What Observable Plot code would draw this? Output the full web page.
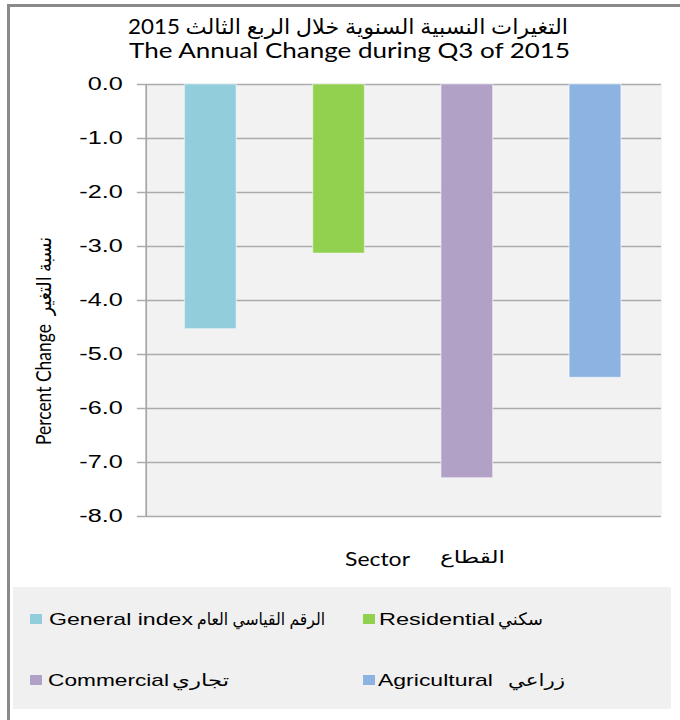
<!DOCTYPE html>
<html>
<head>
<meta charset="utf-8">
<script src="https://cdn.jsdelivr.net/npm/d3@7"></script>
<script src="https://cdn.jsdelivr.net/npm/@observablehq/plot@0.6"></script>
<style>
  html, body { margin: 0; padding: 0; background: #fff; }
  #root { position: relative; width: 680px; height: 720px; overflow: hidden; background: #fff; }
</style>
</head>
<body>
<div id="root"></div>
<script>
// ---- data ----
const sectors = ["General index", "Residential", "Commercial", "Agricultural"];
const sectorsAr = ["الرقم القياسي العام", "سكني", "تجاري", "زراعي"];
const values = [-4.53, -3.13, -7.29, -5.43];
const colors = ["#92cddc", "#92d050", "#b2a1c7", "#8db3e2"];
const yTicks = [0, -1, -2, -3, -4, -5, -6, -7, -8];
const titleAr = "التغيرات النسبية السنوية خلال الربع الثالث 2015";
const titleEn = "The Annual Change during Q3 of 2015";
const yLabel = "Percent Change  نسبة التغير";
const xLabelEn = "Sector";
const xLabelAr = "القطاع";

const data = sectors.map((s, i) => ({sector: s, value: values[i]}));

const root = document.getElementById("root");

// outer border (top + left)
function box(styles) {
  const d = document.createElement("div");
  Object.assign(d.style, {position: "absolute"}, styles);
  root.appendChild(d);
  return d;
}
box({left: "7px", top: "4px", right: "0px", height: "2.5px", background: "#8a8a8a"});
box({left: "7px", top: "4px", width: "2.5px", bottom: "0px", background: "#8a8a8a"});

// chart stage (the reference is horizontally stretched)
const S = 680 / 472;
const stage = box({left: "0px", top: "70px", width: "472px", height: "470px",
  transform: `scaleX(${S})`, transformOrigin: "0 0"});

const chart = Plot.plot({
  width: 472,
  height: 470,
  marginTop: 14,
  marginBottom: 24,
  marginLeft: 145.5 / S,
  marginRight: 472 - 661 / S,
  style: {fontFamily: "'Liberation Sans', Arial, sans-serif", fontSize: "17.5px", color: "#000", background: "transparent"},
  x: {domain: sectors, paddingInner: 0.594, paddingOuter: 0.297, axis: null},
  y: {domain: [-8, 0]},
  color: {domain: sectors, range: colors},
  marks: [
    Plot.frame({fill: "#f2f2f2", stroke: "none"}),
    Plot.gridY(yTicks, {stroke: "#ababab", strokeOpacity: 1, strokeWidth: 1.5}),
    Plot.axisY(yTicks, {tickSize: 6, tickPadding: 10.3, stroke: "#ababab", strokeOpacity: 1, strokeWidth: 1.5,
      fill: "#000", label: null, tickFormat: d => d.toFixed(1)}),
    Plot.frame({anchor: "left", stroke: "#a6a6a6", strokeWidth: 1.2}),
    Plot.barY(data, {x: "sector", y: "value", fill: "sector", stroke: "#fff", strokeOpacity: 0.45, strokeWidth: 1})
  ]
});
stage.appendChild(chart);

// text helper: fit text into [left,right], vertical centre cy
function placeText(parent, str, o) {
  const el = document.createElement("span");
  el.textContent = str;
  if (o.dir) el.dir = o.dir;
  Object.assign(el.style, {
    position: "absolute", whiteSpace: "pre", fontFamily: o.font, fontSize: o.size + "px",
    lineHeight: "1", fontWeight: o.weight || "normal", color: o.color || "#000",
    left: o.left + "px", top: (o.cy - o.size / 2) + "px", transformOrigin: "0 50%"
  });
  parent.appendChild(el);
  const w = el.getBoundingClientRect().width;
  const sx = (o.right - o.left) / w;
  el.style.transform = `scale(${sx}, ${o.sy || 1})`;
  return el;
}

const LATO = "Lato, 'DejaVu Sans', sans-serif";
const ARIAL = "'Liberation Sans', Arial, 'DejaVu Sans', sans-serif";

// titles
placeText(root, titleAr, {left: 128, right: 568, cy: 25, font: LATO, size: 21, dir: "rtl"});
placeText(root, titleEn, {left: 129, right: 570, cy: 49.5, font: LATO, size: 21});

// x label
placeText(root, xLabelEn, {left: 345, right: 410, cy: 559.5, font: LATO, size: 18.5});
placeText(root, xLabelAr, {left: 440, right: 505, cy: 557, font: LATO, size: 17.5, dir: "rtl"});

// y label (rotated)
(function () {
  const el = document.createElement("span");
  el.textContent = yLabel;
  Object.assign(el.style, {position: "absolute", whiteSpace: "pre", fontFamily: LATO, fontSize: "18px",
    lineHeight: "1", color: "#000", left: "0px", top: "0px"});
  root.appendChild(el);
  const r = el.getBoundingClientRect();
  const target = 445 - 237, cx = 43, cy = 341;
  el.style.left = (cx - r.width / 2) + "px";
  el.style.top = (cy - r.height / 2) + "px";
  el.style.transformOrigin = "50% 50%";
  el.style.transform = `rotate(-90deg) scale(${target / r.width}, 1.12)`;
})();

// legend
box({left: "13px", top: "587px", width: "658px", height: "122px", background: "#f0f0f0"});
const legendItems = [
  {sq: 30, cy: 619, en: [49, 193], ar: [197, 325]},
  {sq: 363, cy: 619, en: [379, 495], ar: [498, 543]},
  {sq: 30, cy: 680, en: [48, 169], ar: [172, 229]},
  {sq: 363, cy: 680, en: [378, 493], ar: [508, 565]}
];
legendItems.forEach((it, i) => {
  box({left: it.sq + "px", top: (it.cy - 5) + "px", width: "12px", height: "10px", background: colors[i]});
  placeText(root, sectors[i], {left: it.en[0], right: it.en[1], cy: it.cy, font: ARIAL, size: 17});
  placeText(root, sectorsAr[i], {left: it.ar[0], right: it.ar[1], cy: it.cy, font: ARIAL, size: 17, dir: "rtl"});
});
</script>
</body>
</html>
